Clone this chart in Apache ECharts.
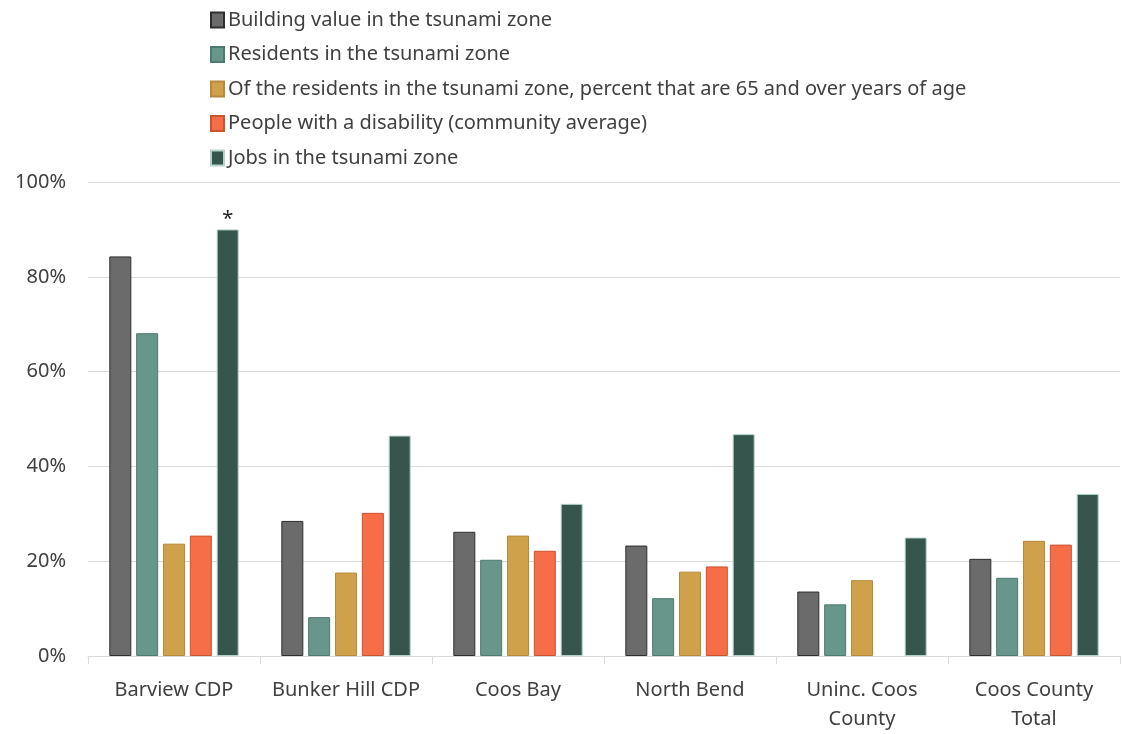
<!DOCTYPE html>
<html><head><meta charset="utf-8">
<script src="https://cdn.jsdelivr.net/npm/echarts@6/dist/echarts.min.js"></script>
<style>html,body{margin:0;padding:0;background:#fff}#c{width:1122px;height:734px}</style>
</head><body><div id="c"></div>
<script>
const categories = ["Barview CDP", "Bunker Hill CDP", "Coos Bay", "North Bend", "Uninc. Coos\nCounty", "Coos County\nTotal"];
const seriesNames = [
  "Building value in the tsunami zone",
  "Residents in the tsunami zone",
  "Of the residents in the tsunami zone, percent that are 65 and over years of age",
  "People with a disability (community average)",
  "Jobs in the tsunami zone"
];
const buildingValue = [84.3, 28.5, 26.2, 23.3, 13.6, 20.5];
const residents = [68.1, 8.2, 20.3, 12.2, 10.9, 16.5];
const seniors = [23.7, 17.6, 25.4, 17.8, 16.0, 24.3];
const disability = [25.4, 30.2, 22.2, 18.9, null, 23.5];
const jobs = [90.0, 46.5, 32.1, 46.8, 25.0, 34.2];
const starredJobIndex = 0;
const yTicks = [0, 20, 40, 60, 80, 100];

const fills = ["#6b6b6b", "#68968a", "#cfa14a", "#f56e48", "#36554c"];
const borders = ["#2e2e2e", "#4b7a6e", "#b8893a", "#c9542f", "#b5d3cb"];
const values = [buildingValue, residents, seniors, disability, jobs];
const font = "'Noto Sans', sans-serif";

const series = values.map((arr, i) => ({
  name: seriesNames[i],
  type: 'bar',
  barWidth: 22,
  barGap: '22%',
  itemStyle: { color: fills[i], borderColor: borders[i], borderWidth: 1 },
  data: arr.map((v, j) => (i === 4 && j === starredJobIndex) ? {
    value: v,
    label: { show: true, position: 'top', formatter: '*', distance: 0, color: '#222', fontSize: 20, fontFamily: font }
  } : v)
}));

const chart = echarts.init(document.getElementById('c'), null, { renderer: 'canvas' });
chart.setOption({
  animation: false,
  backgroundColor: '#fff',
  textStyle: { fontFamily: font },
  legend: {
    orient: 'vertical',
    left: 205,
    top: 5,
    icon: 'rect',
    itemWidth: 13,
    itemHeight: 15,
    itemGap: 14.5,
    textStyle: { fontSize: 20, lineHeight: 20, color: '#404040', fontFamily: font, padding: [0, 0, 0, -1] },
    data: seriesNames
  },
  grid: { left: 88, right: 2, top: 182, bottom: 75, containLabel: false },
  xAxis: {
    type: 'category',
    data: categories,
    axisLine: { lineStyle: { color: '#d9d9d9', width: 1 } },
    axisTick: { show: true, interval: 0, length: 8, lineStyle: { color: '#d9d9d9' } },
    axisLabel: { interval: 0, fontSize: 20, color: '#404040', margin: 20, lineHeight: 29, fontFamily: font }
  },
  yAxis: {
    type: 'value',
    min: yTicks[0],
    max: yTicks[yTicks.length - 1],
    interval: yTicks[1] - yTicks[0],
    axisLine: { show: false },
    axisTick: { show: false },
    splitLine: { lineStyle: { color: '#d9d9d9', width: 1 } },
    axisLabel: { formatter: '{value}%', fontSize: 20, color: '#404040', margin: 22, fontFamily: font }
  },
  series: series
});
</script>
</body></html>
